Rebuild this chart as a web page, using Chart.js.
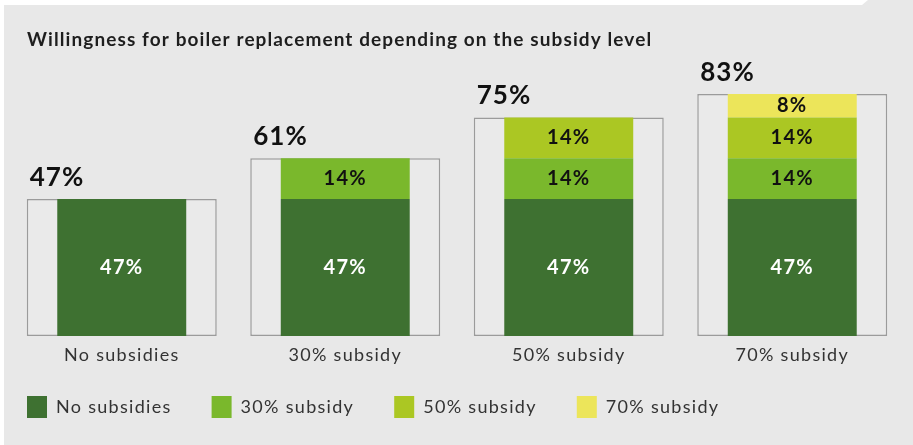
<!DOCTYPE html>
<html>
<head>
<meta charset="utf-8">
<script src="https://cdn.jsdelivr.net/npm/chart.js"></script>
<style>
  body { margin: 0; background: #fff; }
  canvas { display: block; }
</style>
</head>
<body>
<canvas id="grafSubsidio" width="913" height="445"></canvas>
<script>
const grafSubsidio = document.getElementById('grafSubsidio')

// dados
const categorias = ['No subsidies', '30% subsidy', '50% subsidy', '70% subsidy']
const series = ['No subsidies', '30% subsidy', '50% subsidy', '70% subsidy']
const semSubsidio = [47, 47, 47, 47]
const subsidio30 = [null, 14, 14, 14]
const subsidio50 = [null, null, 14, 14]
const subsidio70 = [null, null, null, 8]
const totais = [47, 61, 75, 83]

const cores = ['#3e7131', '#7ab82c', '#abc723', '#ece55a']

// espacamento das letras (vale para todo texto do canvas)
const espacamento = {
    id: 'espacamento',
    afterInit(chart) {
        chart.ctx.letterSpacing = '1.3px'
    }
}

// fundo cinza com o recorte no canto + titulo
const fundo = {
    id: 'fundo',
    beforeDraw(chart) {
        const ctx = chart.ctx
        ctx.save()
        ctx.fillStyle = '#ffffff'
        ctx.fillRect(0, 0, chart.width, chart.height)
        ctx.fillStyle = '#e8e8e8'
        ctx.beginPath()
        ctx.moveTo(4, 5)
        ctx.lineTo(862, 5)
        ctx.lineTo(868, 0)
        ctx.lineTo(chart.width, 0)
        ctx.lineTo(chart.width, chart.height)
        ctx.lineTo(4, chart.height)
        ctx.closePath()
        ctx.fill()

        ctx.font = 'bold 19px Lato'
        ctx.letterSpacing = '1.1px'
        ctx.fillStyle = '#1e1e1e'
        ctx.textAlign = 'left'
        ctx.textBaseline = 'alphabetic'
        ctx.fillText('Willingness for boiler replacement depending on the subsidy level', 27, 46)
        ctx.restore()
    }
}

// rotulos dos valores dentro das barras e total em cima da caixa
const rotulos = {
    id: 'rotulos',
    afterDatasetsDraw(chart) {
        const ctx = chart.ctx
        ctx.save()
        chart.data.datasets.forEach((ds, i) => {
            const meta = chart.getDatasetMeta(i)
            meta.data.forEach((bar, j) => {
                const v = ds.data[j]
                if (v == null) return
                if (ds.stack === 'total') {
                    ctx.font = 'bold 26px Lato'
                    ctx.letterSpacing = '1px'
                    ctx.fillStyle = '#111111'
                    ctx.textAlign = 'left'
                    ctx.textBaseline = 'alphabetic'
                    ctx.fillText(v + '%', bar.x - bar.width / 2 + 3, bar.y - 13)
                } else {
                    ctx.font = 'bold 20px Lato'
                    ctx.letterSpacing = '1.3px'
                    ctx.fillStyle = i === 0 ? '#ffffff' : '#111111'
                    ctx.textAlign = 'center'
                    ctx.textBaseline = 'middle'
                    ctx.fillText(v + '%', bar.x, (bar.y + bar.base) / 2)
                }
            })
        })
        ctx.restore()
    }
}

// legenda com altura fixa e um pouco mais perto do eixo
const ajusteLegenda = {
    id: 'ajusteLegenda',
    beforeInit(chart) {
        const fitOriginal = chart.legend.fit
        chart.legend.fit = function fit() {
            fitOriginal.bind(chart.legend)()
            this.height = 79
        }
    },
    afterLayout(chart) {
        const d = chart.legend.top - 356
        chart.legend.top -= d
        chart.legend.bottom -= d
    }
}

const segmento = (nome, dados, cor) => ({
    label: nome,
    data: dados,
    stack: 'seg',
    backgroundColor: cor,
    borderWidth: 0,
    grouped: false,
    categoryPercentage: 1,
    barPercentage: 0.577,
    order: 0
})

new Chart(grafSubsidio, {
    type: 'bar',
    data: {
        labels: categorias,
        datasets: [
            segmento(series[0], semSubsidio, cores[0]),
            segmento(series[1], subsidio30, cores[1]),
            segmento(series[2], subsidio50, cores[2]),
            segmento(series[3], subsidio70, cores[3]),
            {
                label: 'Total',
                data: totais,
                stack: 'total',
                backgroundColor: '#eaeaea',
                borderColor: '#9b9b9b',
                borderWidth: 1.5,
                borderSkipped: false,
                grouped: false,
                categoryPercentage: 1,
                barPercentage: 0.85,
                order: 1
            }
        ]
    },
    options: {
        responsive: false,
        animation: false,
        layout: { padding: { top: 44.5, left: -13, right: 9, bottom: 0 } },
        scales: {
            x: {
                stacked: true,
                grid: { display: false, drawTicks: false },
                border: { display: false },
                ticks: {
                    color: '#333333',
                    padding: 8,
                    font: { family: 'Lato', size: 18 }
                },
                afterFit(scale) { scale.height = 30 }
            },
            y: {
                stacked: true,
                min: 0,
                max: 100,
                grid: { display: false, drawTicks: false },
                border: { display: false },
                ticks: { display: false },
                afterFit(scale) { scale.width = 23 }
            }
        },
        plugins: {
            tooltip: { enabled: false },
            legend: {
                position: 'bottom',
                align: 'start',
                labels: {
                    filter: item => item.text !== 'Total',
                    boxWidth: 20,
                    boxHeight: 22,
                    padding: 40,
                    color: '#333333',
                    font: { family: 'Lato', size: 18 }
                }
            }
        }
    },
    plugins: [espacamento, fundo, rotulos, ajusteLegenda]
})
</script>
</body>
</html>
